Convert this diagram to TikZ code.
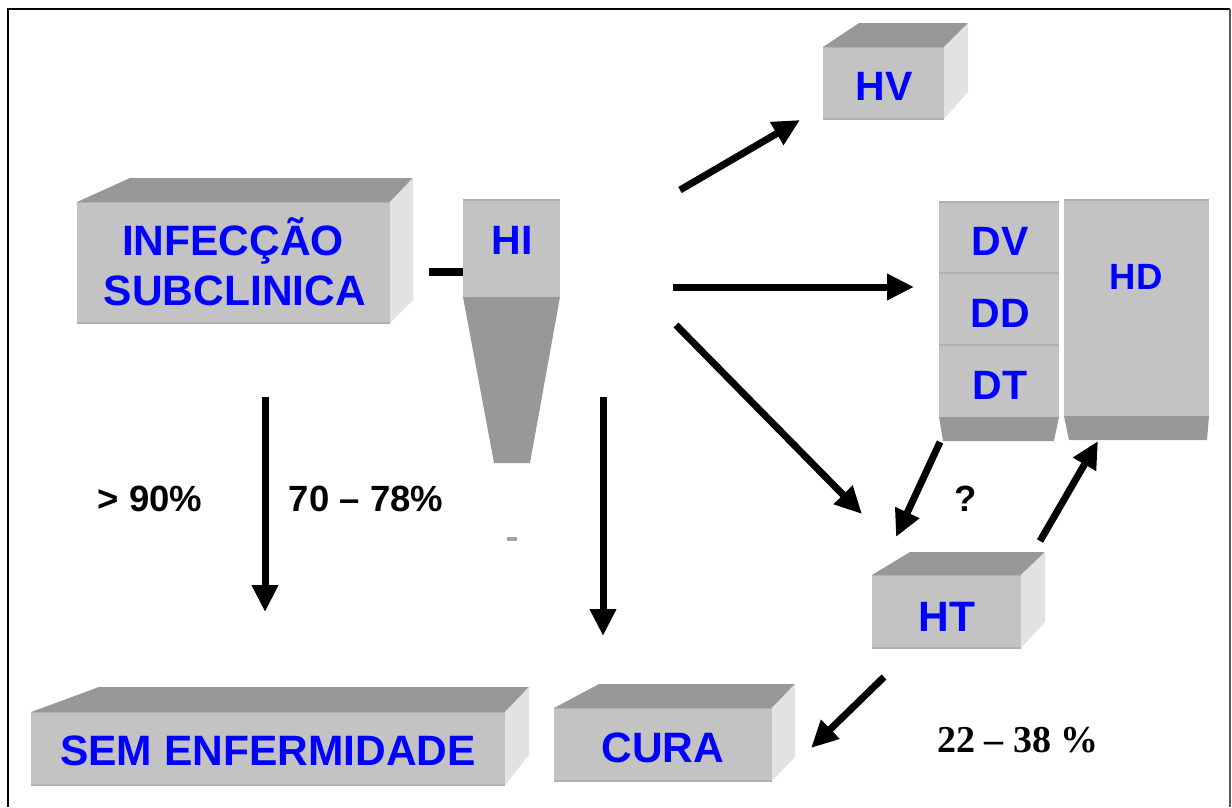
\documentclass[tikz,border=0pt]{standalone}
\usepackage{fontspec}
\setmainfont{Liberation Sans}
\newfontfamily\timesf{Liberation Serif}
\usetikzlibrary{arrows.meta}
\definecolor{frontc}{HTML}{C3C3C3}
\definecolor{topc}{HTML}{989898}
\definecolor{sidec}{HTML}{E2E2E2}
\definecolor{edgec}{HTML}{B0B0B0}
\definecolor{lbl}{HTML}{0000FF}
\newcommand\tdbox[8]{%
  \fill[topc] (#1,#2)--(#5,#7)--(#6,#7)--(#3,#2)--cycle;
  \fill[sidec] (#3,#2)--(#6,#7)--(#6,#8)--(#3,#4)--cycle;
  \fill[frontc] (#1,#2) rectangle (#3,#4);
  \draw[edgec,line width=1.5] (#1,#4)--(#3,#4);
  \draw[edgec,line width=1] (#1,#2)--(#3,#2);
}
\tikzset{
  big/.style={font=\bfseries\fontsize{42.5}{46}\selectfont, text=lbl, inner sep=0pt, anchor=base},
  mid/.style={font=\bfseries\fontsize{41}{44}\selectfont, text=lbl, inner sep=0pt, anchor=base},
  pct/.style={font=\bfseries\fontsize{36.5}{40}\selectfont, inner sep=0pt, anchor=base},
  arr/.style={line width=7pt, -{Triangle[length=27pt,width=25pt]}},
}
\begin{document}
\begin{tikzpicture}[x=1pt,y=-1pt]
\useasboundingbox (0,0) rectangle (1232,807);
% frame
\draw[line width=2.5pt] (8,807)--(8,9)--(1230,9);
\draw[line width=2pt, black!65] (1230,9)--(1230,807);

% 3D boxes
\tdbox{77}{202}{390}{323}{130}{413}{178}{300}
\tdbox{823}{47}{944}{119}{859}{968}{23}{92}
\tdbox{872}{575}{1021}{648}{910}{1045}{552}{622}
\tdbox{31}{712}{505}{785}{99}{529}{687}{755}
\tdbox{554}{708}{772}{781}{599}{795}{684}{757}

% HI with funnel
\fill[frontc] (463,199) rectangle (560,297);
\draw[edgec,line width=2] (463,200)--(560,200);
\fill[topc] (463,297)--(560,297)--(530,463)--(494,463)--cycle;
\fill[topc!90] (507,537) rectangle (517,541);

% DV/DD/DT stack
\fill[frontc] (939,201) rectangle (1059,417);
\draw[edgec,line width=2] (939,202)--(1059,202);
\draw[edgec,line width=2] (939,273)--(1059,273);
\draw[edgec,line width=2] (939,345)--(1059,345);
\fill[topc] (939,417)--(1059,417)--(1054,441)--(943,441)--cycle;
% HD column
\fill[frontc] (1064,199) rectangle (1209,416);
\draw[edgec,line width=2] (1064,200)--(1209,200);
\fill[topc] (1064,416)--(1209,416)--(1207,440)--(1069,440)--cycle;

% labels
\node[big] (infec1) at (233,255) {INFECÇÃO};
\node[big] (infec2) at (235,305) {SUBCLINICA};
\node[mid] (hi) at (512,254) {HI};
\node[mid] (hv) at (884,100) {HV};
\node[mid] (dv) at (1000,255) {DV};
\node[mid] (dd) at (1000,327) {DD};
\node[mid] (dt) at (1000,399) {DT};
\node[font=\bfseries\fontsize{36.5}{40}\selectfont, text=lbl, inner sep=0pt, anchor=base] (hd) at (1136,289) {HD};
\node[big] (ht) at (947,631) {HT};
\node[big] (sem) at (268,765) {SEM ENFERMIDADE};
\node[big] (cura) at (663,762) {CURA};

\node[pct] (p90) at (150,511) {> 90\%};
\node[pct] (p70) at (366,511) {70 – 78\%};
\node[pct] (q) at (966,511) {?};
\node[font=\timesf\bfseries\fontsize{38}{40}\selectfont, inner sep=0pt, anchor=base] (p22) at (1018,752) {22 – 38 \%};

% connector stub
\coordinate (stubA) at (429,272);
\coordinate (stubB) at (463,272);
\draw[line width=8pt] (stubA)--(stubB);

% arrows
\coordinate (a1s) at (680,190); \coordinate (a1e) at (800,120);
\coordinate (a2s) at (673,287); \coordinate (a2e) at (914,287);
\coordinate (a3s) at (676,325); \coordinate (a3e) at (862,514);
\coordinate (a4s) at (940,442); \coordinate (a4e) at (896,537);
\coordinate (a5s) at (1040,541); \coordinate (a5e) at (1098,441);
\coordinate (a6s) at (265,397); \coordinate (a6e) at (265,612);
\coordinate (a7s) at (603,397); \coordinate (a7e) at (603,636);
\coordinate (a8s) at (884,677); \coordinate (a8e) at (811,748);
\foreach \i in {1,...,8} \draw[arr] (a\i s)--(a\i e);
\end{tikzpicture}
\end{document}
